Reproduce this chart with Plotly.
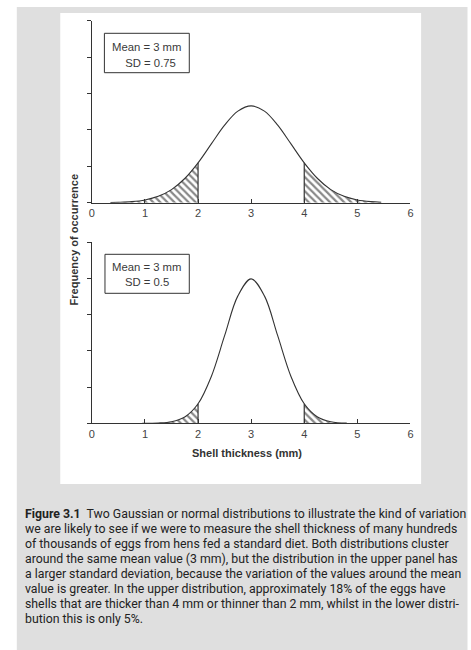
import plotly.graph_objects as go

W, H = 471, 650

# Upper panel: mean 3 mm, SD 0.75 (relative frequency)
upper_x = [0.35, 0.5, 0.75, 1.0, 1.25, 1.5, 1.75, 2.0, 2.25, 2.5, 2.75, 3.0,
           3.25, 3.5, 3.75, 4.0, 4.25, 4.5, 4.75, 5.0, 5.25, 5.45]
upper_y = [0.001, 0.0021, 0.0059, 0.0152, 0.035, 0.072, 0.133, 0.219, 0.323, 0.426, 0.503, 0.532,
           0.503, 0.426, 0.323, 0.219, 0.133, 0.072, 0.035, 0.0152, 0.0059, 0.0026]

# Lower panel: mean 3 mm, SD 0.5
lower_x = [0.95, 1.25, 1.5, 1.75, 2.0, 2.25, 2.5, 2.75, 3.0, 3.25, 3.5, 3.75,
           4.0, 4.25, 4.5, 4.8]
lower_y = [0.0002, 0.0017, 0.0089, 0.0351, 0.108, 0.259, 0.484, 0.704, 0.798, 0.704, 0.484, 0.259,
           0.108, 0.0351, 0.0089, 0.0012]

x_ticks = [0, 1, 2, 3, 4, 5, 6]
y_ticks = [0, 0.2, 0.4, 0.6, 0.8, 1.0]
cut_low, cut_high = 2.0, 4.0

box_upper = ["Mean = 3 mm", "SD = 0.75"]
box_lower = ["Mean = 3 mm", "SD = 0.5"]
x_title = "Shell thickness (mm)"
y_title = "Frequency of occurrence"

caption_lines = [
    "<b>Figure 3.1</b>  Two Gaussian or normal distributions to illustrate the kind of variation",
    "we are likely to see if we were to measure the shell thickness of many hundreds",
    "of thousands of eggs from hens fed a standard diet. Both distributions cluster",
    "around the same mean value (3 mm), but the distribution in the upper panel has",
    "a larger standard deviation, because the variation of the values around the mean",
    "value is greater. In the upper distribution, approximately 18% of the eggs have",
    "shells that are thicker than 4 mm or thinner than 2 mm, whilst in the lower distri-",
    "bution this is only 5%.",
]


def px(x):
    return x / W


def py(y):
    return 1 - y / H


INK = "#333333"
fig = go.Figure()

panels = [(upper_x, upper_y, "x", "y"), (lower_x, lower_y, "x2", "y2")]
for xs, ys, xa, ya in panels:
    left = [(x, y) for x, y in zip(xs, ys) if x <= cut_low]
    right = [(x, y) for x, y in zip(xs, ys) if x >= cut_high]
    for tail in (left, right):
        fig.add_trace(go.Scatter(
            x=[p[0] for p in tail], y=[p[1] for p in tail], mode="lines",
            line=dict(width=0, shape="spline"), fill="tozeroy", fillcolor="white",
            fillpattern=dict(shape="\\", fgcolor="#111111", bgcolor="white", size=5, solidity=0.45),
            xaxis=xa, yaxis=ya, hoverinfo="skip", showlegend=False))
    for c in (cut_low, cut_high):
        yc = ys[xs.index(c)]
        fig.add_trace(go.Scatter(x=[c, c], y=[0, yc], mode="lines",
                                 line=dict(color=INK, width=1.2),
                                 xaxis=xa, yaxis=ya, hoverinfo="skip", showlegend=False))
    fig.add_trace(go.Scatter(x=xs, y=ys, mode="lines",
                             line=dict(color=INK, width=1.1, shape="spline"),
                             xaxis=xa, yaxis=ya, hoverinfo="skip", showlegend=False))

xdom = [px(90), px(412.7)]
common_x = dict(domain=xdom, range=[0, 6], showline=True, linecolor=INK, linewidth=1,
                ticks="inside", ticklen=4, tickcolor=INK, tickvals=x_ticks,
                tickfont=dict(family="Liberation Sans, Arial", size=11, color="#444"),
                showgrid=False, zeroline=False, fixedrange=True)
common_y = dict(range=[0, 1], showline=True, linecolor=INK, linewidth=1,
                ticks="outside", ticklen=4, tickcolor=INK, tickvals=y_ticks,
                showticklabels=False, showgrid=False, zeroline=False, fixedrange=True)

fig.update_layout(
    width=W, height=H, margin=dict(l=0, r=0, t=0, b=0),
    paper_bgcolor="white", plot_bgcolor="rgba(0,0,0,0)",
    xaxis=dict(common_x, anchor="y"),
    yaxis=dict(common_y, anchor="x", domain=[py(202.7), py(20.7)]),
    xaxis2=dict(common_x, anchor="y2"),
    yaxis2=dict(common_y, anchor="x2", domain=[py(423.3), py(242.3)]),
)

shapes = [
    dict(type="rect", xref="paper", yref="paper", x0=px(14), x1=px(470.5), y0=0, y1=py(7),
         fillcolor="#dfdfdf", line=dict(width=0), layer="below"),
    dict(type="rect", xref="paper", yref="paper", x0=px(58), x1=px(423.5), y0=py(484), y1=py(13),
         fillcolor="white", line=dict(width=0), layer="below"),
    dict(type="rect", xref="paper", yref="paper", x0=px(102.7), x1=px(188.7), y0=py(72.7), y1=py(33.3),
         fillcolor="white", line=dict(color=INK, width=1)),
    dict(type="rect", xref="paper", yref="paper", x0=px(103.3), x1=px(188.7), y0=py(293.3), y1=py(254.3),
         fillcolor="white", line=dict(color=INK, width=1)),
]
fig.update_layout(shapes=shapes)

lab_font = dict(family="Liberation Sans, Arial", size=11.3, color="#3a3a3a")
ann = []
for text, x, y in [(box_upper[0], 145.7, 46.7), ("\u2007" + box_upper[1], 146.5, 63.3),
                   (box_lower[0], 145.7, 267.3), (box_lower[1], 145.7, 281.7)]:
    ann.append(dict(text=text, xref="paper", yref="paper", x=px(x), y=py(y),
                    xanchor="center", yanchor="middle", showarrow=False, font=lab_font))

ann.append(dict(text="<b>" + x_title + "</b>", xref="paper", yref="paper", x=px(246.7), y=py(452.7),
                xanchor="center", yanchor="middle", showarrow=False,
                font=dict(family="Liberation Sans, Arial", size=11, color="#333")))
ann.append(dict(text="<b>" + y_title + "</b>", xref="paper", yref="paper", x=px(72.3), y=py(240),
                xanchor="center", yanchor="middle", showarrow=False, textangle=-90,
                font=dict(family="Liberation Sans, Arial", size=11, color="#333")))

for i, line in enumerate(caption_lines):
    ann.append(dict(text=line, xref="paper", yref="paper", x=px(20), y=py(514.3 + 15 * i),
                    xanchor="left", yanchor="middle", showarrow=False,
                    font=dict(family="Roboto", size=12.3, color="#222")))

fig.update_layout(annotations=ann)

fig.write_html("out.html")
